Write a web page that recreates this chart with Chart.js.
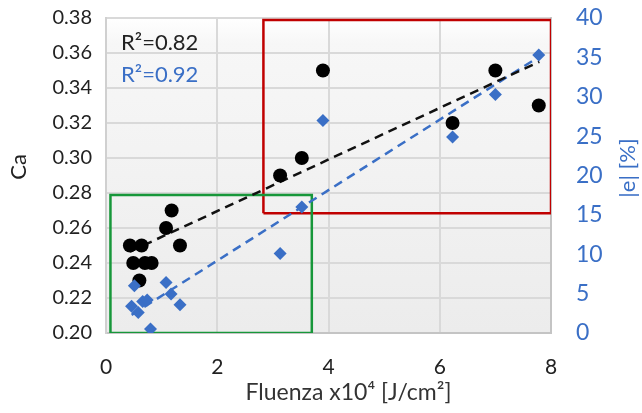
<!DOCTYPE html>
<html>
<head>
<meta charset="utf-8">
<script src="https://cdn.jsdelivr.net/npm/chart.js@4/dist/chart.umd.min.js"></script>
<style>
  html, body { margin: 0; padding: 0; background: #ffffff; }
  #wrap { width: 642px; height: 413px; position: relative; }
</style>
</head>
<body>
<div id="wrap"><canvas id="c"></canvas></div>
<script>
// ---- data ----
const fluenzaCa = [0.43, 0.64, 0.49, 0.70, 0.82, 0.60, 1.08, 1.18, 1.33, 3.13, 3.52, 3.90, 6.23, 7.00, 7.78];
const caValues  = [0.25, 0.25, 0.24, 0.24, 0.24, 0.23, 0.26, 0.27, 0.25, 0.29, 0.30, 0.35, 0.32, 0.35, 0.33];

const fluenzaE  = [0.51, 0.46, 0.58, 0.66, 0.74, 0.80, 1.08, 1.17, 1.33, 3.13, 3.52, 3.90, 6.23, 7.00, 7.78];
const eValues   = [6.0, 3.4, 2.6, 4.0, 4.2, 0.5, 6.4, 4.95, 3.6, 10.1, 16.0, 27.0, 24.9, 30.3, 35.3];

// trend line end points
const trendCaX = [0.43, 7.79];
const trendCaY = [0.2465, 0.355];
const trendEX  = [0.46, 7.79];
const trendEY  = [2.3, 35.1];

// highlight boxes (in data units of x and left axis)
const greenBoxX = [0.08, 3.70];
const greenBoxY = [0.2000, 0.2789];
const redBoxX   = [2.83, 8.00];
const redBoxY   = [0.2684, 0.3789];

const r2Labels = ['R\u00B2=0.82', 'R\u00B2=0.92'];
const xTitle = 'Fluenza x10\u2074 [J/cm\u00B2]';
const yTitle = 'Ca';
const y2Title = '|e| [%]';

const BLUE = '#3a6fc6';
const FONT = 'Lato, "Open Sans", sans-serif';

function pts(xs, ys) { return xs.map((x, i) => ({ x: x, y: ys[i] })); }
function box(xs, ys) {
  return [
    { x: xs[0], y: ys[0] }, { x: xs[1], y: ys[0] },
    { x: xs[1], y: ys[1] }, { x: xs[0], y: ys[1] }, { x: xs[0], y: ys[0] }
  ];
}

const bgPlugin = {
  id: 'plotBg',
  beforeDraw(chart) {
    const { ctx, chartArea: a } = chart;
    const g = ctx.createLinearGradient(0, a.top, 0, a.bottom);
    g.addColorStop(0, '#ffffff');
    g.addColorStop(0.08, '#f7f7f7');
    g.addColorStop(1, '#ececec');
    ctx.save();
    ctx.fillStyle = g;
    ctx.fillRect(a.left, a.top, a.right - a.left, a.bottom - a.top);
    ctx.restore();
  }
};

const textPlugin = {
  id: 'texts',
  afterDraw(chart) {
    const { ctx, chartArea: a } = chart;
    ctx.save();
    ctx.textBaseline = 'middle';
    ctx.font = '22px ' + FONT;
    ctx.textAlign = 'left';
    ctx.fillStyle = '#222222';
    ctx.fillText(r2Labels[0], a.left + 15, a.top + 25);
    ctx.fillStyle = BLUE;
    ctx.fillText(r2Labels[1], a.left + 15, a.top + 57);

    // x title
    ctx.textAlign = 'center';
    ctx.fillStyle = '#333333';
    ctx.font = '23px ' + FONT;
    ctx.fillText(xTitle, (a.left + a.right) / 2 + 20, 393);

    // left title
    ctx.save();
    ctx.translate(19, 167);
    ctx.rotate(-Math.PI / 2);
    ctx.font = '22px ' + FONT;
    ctx.fillStyle = '#222222';
    ctx.fillText(yTitle, 0, 0);
    ctx.restore();

    // right title
    ctx.save();
    ctx.translate(628, 168);
    ctx.rotate(-Math.PI / 2);
    ctx.font = '22px ' + FONT;
    ctx.fillStyle = BLUE;
    ctx.fillText(y2Title, 0, 0);
    ctx.restore();
    ctx.restore();
  }
};

new Chart(document.getElementById('c'), {
  type: 'scatter',
  data: {
    datasets: [
      { label: 'Ca', data: pts(fluenzaCa, caValues), yAxisID: 'y',
        pointStyle: 'circle', pointRadius: 7, pointHoverRadius: 7,
        backgroundColor: '#000000', borderColor: '#000000', borderWidth: 0, order: 1 },
      { label: '|e|', data: pts(fluenzaE, eValues), yAxisID: 'y2',
        pointStyle: 'rectRot', pointRadius: 6.5, pointHoverRadius: 6.5,
        backgroundColor: BLUE, borderColor: BLUE, borderWidth: 0, order: 0 },
      { label: 'trend Ca', data: pts(trendCaX, trendCaY), yAxisID: 'y', showLine: true,
        pointRadius: 0, borderColor: '#111111', borderWidth: 2.5, borderDash: [9, 6], order: 3 },
      { label: 'trend e', data: pts(trendEX, trendEY), yAxisID: 'y2', showLine: true,
        pointRadius: 0, borderColor: BLUE, borderWidth: 2.5, borderDash: [9, 6], order: 3 },
      { label: 'green box', data: box(greenBoxX, greenBoxY), yAxisID: 'y', showLine: true,
        pointRadius: 0, borderColor: '#17973a', borderWidth: 2.5, fill: false, order: 4 },
      { label: 'red box', data: box(redBoxX, redBoxY), yAxisID: 'y', showLine: true,
        pointRadius: 0, borderColor: '#c00000', borderWidth: 2.5, fill: false, order: 4 }
    ]
  },
  options: {
    responsive: true,
    maintainAspectRatio: false,
    animation: false,
    layout: { padding: { top: 18, left: 0, right: 0, bottom: 0 } },
    plugins: { legend: { display: false }, tooltip: { enabled: false } },
    scales: {
      x: {
        type: 'linear', min: 0, max: 8,
        ticks: { stepSize: 2, padding: 22, color: '#222222', font: { family: FONT, size: 21 } },
        grid: { color: '#d9d9d9', lineWidth: 2, drawTicks: false },
        border: { color: '#c4c4c4', width: 2 },
        afterFit(s) { s.height = 80; }
      },
      y: {
        type: 'linear', position: 'left', min: 0.20, max: 0.38,
        ticks: { stepSize: 0.02, padding: 2, color: '#222222',
          font: { family: FONT, size: 20 }, callback: v => Number(v).toFixed(2) },
        grid: { color: '#d9d9d9', lineWidth: 2, drawTicks: true, tickLength: 12, tickColor: 'rgba(0,0,0,0)' },
        border: { color: '#d0d0d0', width: 2 },
        afterFit(s) { s.width = 106; }
      },
      y2: {
        type: 'linear', position: 'right', min: 0, max: 40,
        ticks: { stepSize: 5, padding: 2, color: BLUE, font: { family: FONT, size: 23 } },
        grid: { display: true, drawOnChartArea: false, drawTicks: true, tickLength: 23, tickColor: 'rgba(0,0,0,0)' },
        border: { color: '#c4c4c4', width: 2 },
        afterFit(s) { s.width = 91; }
      }
    }
  },
  plugins: [bgPlugin, textPlugin]
});
</script>
</body>
</html>
